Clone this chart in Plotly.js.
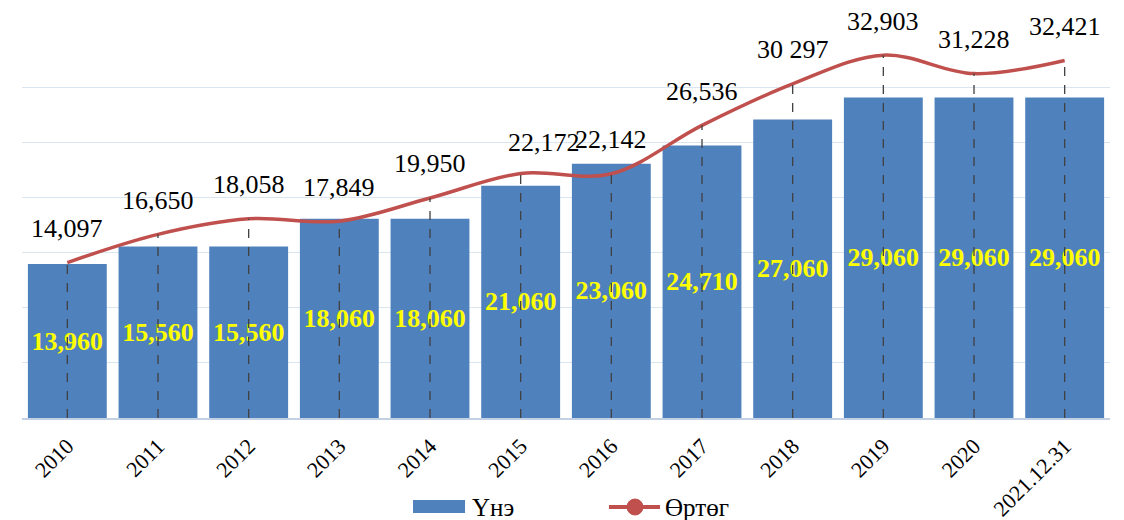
<!DOCTYPE html>
<html>
<head>
<meta charset="utf-8">
<script src="https://cdn.plot.ly/plotly-3.0.1.min.js"></script>
<style>html,body{margin:0;padding:0;background:#fff;}#chart{width:1124px;height:520px;}</style>
</head>
<body>
<div id="chart"></div>
<script>
// ---- data ----
const categories = ['2010','2011','2012','2013','2014','2015','2016','2017','2018','2019','2020','2021.12.31'];
const priceValues = [13960, 15560, 15560, 18060, 18060, 21060, 23060, 24710, 27060, 29060, 29060, 29060];
const costValues  = [14097, 16650, 18058, 17849, 19950, 22172, 22142, 26536, 30297, 32903, 31228, 32421];
const costLabels  = ['14,097','16,650','18,058','17,849','19,950','22,172','22,142','26,536','30 297','32,903','31,228','32,421'];
const seriesNames = ['Үнэ', 'Өртөг'];

// ---- styles ----
const FONT = 'Liberation Serif, Times New Roman, serif';
const BAR_COLOR = '#4f81bd';
const LINE_COLOR = '#c0504d';
const labelShift = {'2015': {x: 23, y: 31}};

const traces = [
  {
    type: 'bar', name: seriesNames[0], x: categories, y: priceValues,
    marker: {color: BAR_COLOR},
    texttemplate: '%{y:,}', textposition: 'inside', insidetextanchor: 'middle',
    textangle: 0, constraintext: 'none',
    textfont: {family: FONT, size: 26, color: '#ffff00', weight: 'bold'},
    hoverinfo: 'x+y', showlegend: false
  },
  {
    type: 'scatter', mode: 'lines', name: seriesNames[1], x: categories, y: costValues,
    line: {color: LINE_COLOR, width: 3.5, shape: 'spline', smoothing: 1},
    showlegend: false
  }
];

const shapes = [];
const annotations = [];
categories.forEach((c, i) => {
  // category axis: position i is the i-th category
  shapes.push({type: 'line', xref: 'x', yref: 'y', x0: i, x1: i, y0: 0, y1: costValues[i],
    line: {color: '#404040', width: 1.3, dash: 'dash'}, layer: 'above'});
  const s = labelShift[c] || {x: 0, y: 34};
  annotations.push({xref: 'x', yref: 'y', x: i, y: costValues[i], text: costLabels[i],
    showarrow: false, xshift: s.x, yshift: s.y, font: {family: FONT, size: 26, color: '#000'}});
});

// custom legend
shapes.push({type: 'rect', xref: 'paper', yref: 'paper', x0: 0.3594, x1: 0.4072, y0: -0.2461, y1: -0.2124,
  fillcolor: BAR_COLOR, line: {width: 0}});
shapes.push({type: 'line', xref: 'paper', yref: 'paper', x0: 0.5395, x1: 0.5864, y0: -0.2306, y1: -0.2306,
  line: {color: LINE_COLOR, width: 4}});
shapes.push({type: 'circle', xref: 'paper', yref: 'paper', xsizemode: 'pixel', ysizemode: 'pixel',
  xanchor: 0.5634, yanchor: -0.2306, x0: -8, x1: 8, y0: -8, y1: 8,
  fillcolor: LINE_COLOR, line: {color: LINE_COLOR, width: 1}});
annotations.push({xref: 'paper', yref: 'paper', x: 0.4118, y: -0.2306, xanchor: 'left', yanchor: 'middle',
  text: seriesNames[0], showarrow: false, font: {family: FONT, size: 25, color: '#000'}});
annotations.push({xref: 'paper', yref: 'paper', x: 0.5892, y: -0.2306, xanchor: 'left', yanchor: 'middle',
  text: seriesNames[1], showarrow: false, font: {family: FONT, size: 25, color: '#000'}});

const layout = {
  width: 1124, height: 520,
  margin: {l: 22, r: 14, t: 32, b: 102},
  paper_bgcolor: '#fff', plot_bgcolor: '#fff',
  bargap: 0.13,
  showlegend: false,
  xaxis: {type: 'category', categoryorder: 'array', categoryarray: categories,
    tickangle: -45, tickfont: {family: FONT, size: 22, color: '#000'}, ticklabelstandoff: 5,
    showline: true, linecolor: '#c3d1e4', linewidth: 1.5, ticks: '', showgrid: false},
  yaxis: {range: [0, 35000], dtick: 5000, showticklabels: false, showgrid: true,
    gridcolor: '#dae5f2', gridwidth: 1.2, zeroline: false, ticks: ''},
  shapes: shapes,
  annotations: annotations
};

Plotly.newPlot('chart', traces, layout, {displayModeBar: false, staticPlot: true});
</script>
</body>
</html>
